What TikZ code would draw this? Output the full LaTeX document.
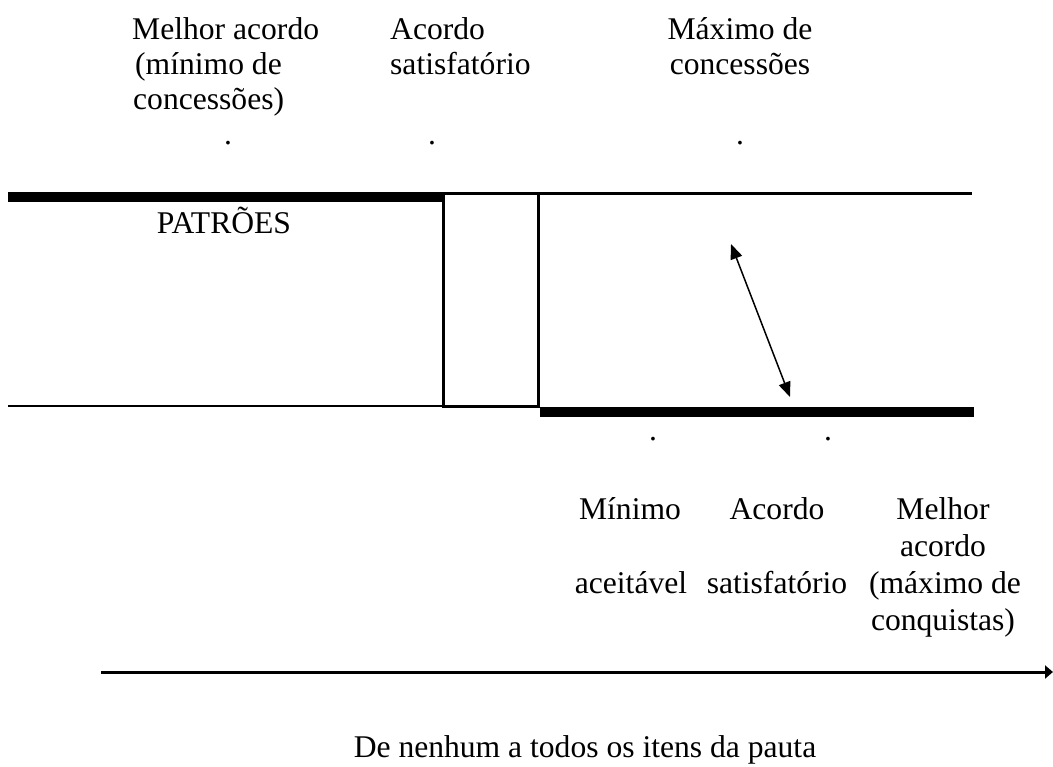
\documentclass[tikz,border=0pt]{standalone}
\usepackage{fontspec}
\setmainfont{Liberation Serif}
\newfontfamily\tnr{Liberation Serif}
\usetikzlibrary{arrows.meta}
\tikzset{
  lbl/.style={inner sep=0pt, font=\tnr\fontsize{31.6}{36}\selectfont},
  lblw/.style={lbl, anchor=base west},
  lblc/.style={lbl, anchor=base},
  thickbar/.style={line width=10pt, line cap=butt},
  thinbar/.style={line width=2.5pt},
  boxline/.style={line width=3pt},
}
\begin{document}
\begin{tikzpicture}[x=1pt,y=-1pt]
\useasboundingbox (0,0) rectangle (1053,767);

% top labels
\node[lblw] (ta1) at (132,40) {Melhor acordo};
\node[lblw] (ta2) at (135,75) {(mínimo de};
\node[lblw] (ta3) at (133,110) {concessões)};
\node[lblw] (tb1) at (390,40) {Acordo};
\node[lblw] (tb2) at (390,75) {satisfatório};
\node[lblc] (tc1) at (740,40) {Máximo de};
\node[lblc] (tc2) at (740,75) {concessões};
\node[lblc] (d1) at (228,145) {.};
\node[lblc] (d2) at (432,145) {.};
\node[lblc] (d3) at (740,145) {.};

% bars and box
\coordinate (tl) at (8,197);
\coordinate (tm) at (442,197);
\coordinate (tml) at (442,193.5);
\coordinate (tr) at (972,193.5);
\coordinate (bl) at (8,406);
\coordinate (bm) at (443,406);
\coordinate (bml) at (540,412);
\coordinate (br) at (974,412);
\draw[thickbar] (tl) -- (tm);
\draw[thinbar] (tml) -- (tr);
\draw[thinbar] (bl) -- (bm);
\draw[thickbar] (bml) -- (br);
\node[boxline, draw, minimum width=95pt, minimum height=213pt, inner sep=0pt] (box) at (490.5,300.5) {};

\node[lblc] (pat) at (224,234) {PATRÕES};

% double arrow
\coordinate (ua) at (731,244);
\coordinate (ub) at (790,397);
\draw[line width=1.5pt, {Triangle[length=15pt,width=12pt]}-{Triangle[length=15pt,width=12pt]}] (ua) -- (ub);

% bottom labels
\node[lblc] (d4) at (653,440) {.};
\node[lblc] (d5) at (828,440) {.};
\node[lblc] (ba1) at (630,519) {Mínimo};
\node[lblc] (ba2) at (631,593) {aceitável};
\node[lblc] (bb1) at (777,519) {Acordo};
\node[lblc] (bb2) at (777,593) {satisfatório};
\node[lblc] (bc1) at (943,519) {Melhor};
\node[lblc] (bc2) at (943,556) {acordo};
\node[lblc] (bc3) at (945,593) {(máximo de};
\node[lblc] (bc4) at (943,630) {conquistas)};

% axis
\coordinate (ax0) at (101,672);
\coordinate (ax1) at (1053,672);
\draw[line width=3pt, -{Triangle[length=8pt,width=13pt]}] (ax0) -- (ax1);
\node[lblc] (axl) at (585,757) {De nenhum a todos os itens da pauta};
\end{tikzpicture}
\end{document}
